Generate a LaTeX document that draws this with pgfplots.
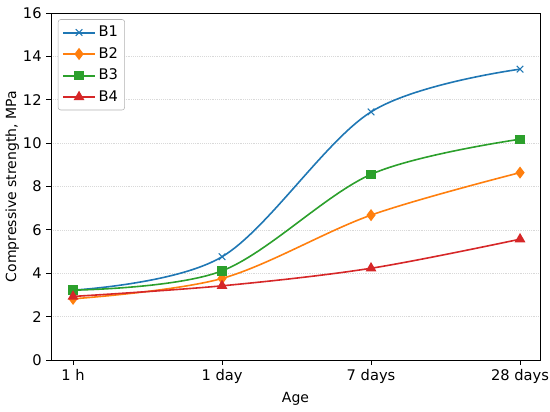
\documentclass[border=0pt]{standalone}
\usepackage{pgfplots}
\pgfplotsset{compat=1.18}
\usepackage{fontspec}
\setmainfont{DejaVu Sans}
\definecolor{c1}{HTML}{1F77B4}
\definecolor{c2}{HTML}{FF7F0E}
\definecolor{c3}{HTML}{2CA02C}
\definecolor{c4}{HTML}{D62728}
\begin{document}
\begin{tikzpicture}
\begin{axis}[
  scale only axis,
  width=366.75pt, height=260.25pt,
  xmin=-0.148, xmax=3.134,
  ymin=0, ymax=16,
  xtick={0,1,2,3},
  xticklabels={1 h,1 day,7 days,28 days},
  ytick={0,2,...,16},
  tick align=outside,
  tick pos=left,
  major tick length=3.5pt,
  tick style={black, line width=0.6pt},
  axis line style={line width=0.6pt},
  ymajorgrids,
  grid style={densely dotted, gray!30, line width=0.5pt},
  /pgf/number format/assume math mode=true,
  tick label style={font=\fontsize{11}{13}\selectfont},
  label style={font=\fontsize{10.5}{13}\selectfont},
  xlabel={Age},
  ylabel={Compressive strength, MPa},
  ylabel style={yshift=-4pt},
  xlabel style={yshift=0pt},
  legend style={font=\fontsize{11}{13}\selectfont, draw=gray!60, rounded corners=2pt, at={(0.014,0.982)}, anchor=north west, row sep=2.5pt, inner sep=3pt, nodes={inner sep=2pt}},
  legend cell align=left,
  legend image code/.code={\draw[#1, line width=1.5pt] (0pt,0pt) -- (0.42cm,0pt) -- (0.84cm,0pt); \path[#1, mark repeat=1] plot coordinates {(0.42cm,0pt)};},
  every axis plot/.append style={line width=1.2pt, smooth, tension=0.55},
  clip=false,
]
\addplot[c1, mark=x, mark size=3.5pt, mark options={line width=0.8pt}] coordinates {(0,3.22) (1,4.76) (2,11.44) (3,13.41)};
\addlegendentry{B1}
\addplot[c2, mark=diamond*, mark size=3.6pt, mark options={solid}] coordinates {(0,2.82) (1,3.76) (2,6.68) (3,8.64)};
\addlegendentry{B2}
\addplot[c3, mark=square*, mark size=2.9pt] coordinates {(0,3.22) (1,4.11) (2,8.56) (3,10.18)};
\addlegendentry{B3}
\addplot[c4, mark=triangle*, mark size=3.5pt] coordinates {(0,2.93) (1,3.42) (2,4.23) (3,5.57)};
\addlegendentry{B4}
\coordinate (sw) at (rel axis cs:0,0);
\coordinate (ne) at (rel axis cs:1,1);
\end{axis}
\pgfresetboundingbox
\path ([shift={(-38.25pt,-39pt)}]sw) rectangle ([shift={(7.5pt,9.75pt)}]ne);
\end{tikzpicture}
\end{document}
